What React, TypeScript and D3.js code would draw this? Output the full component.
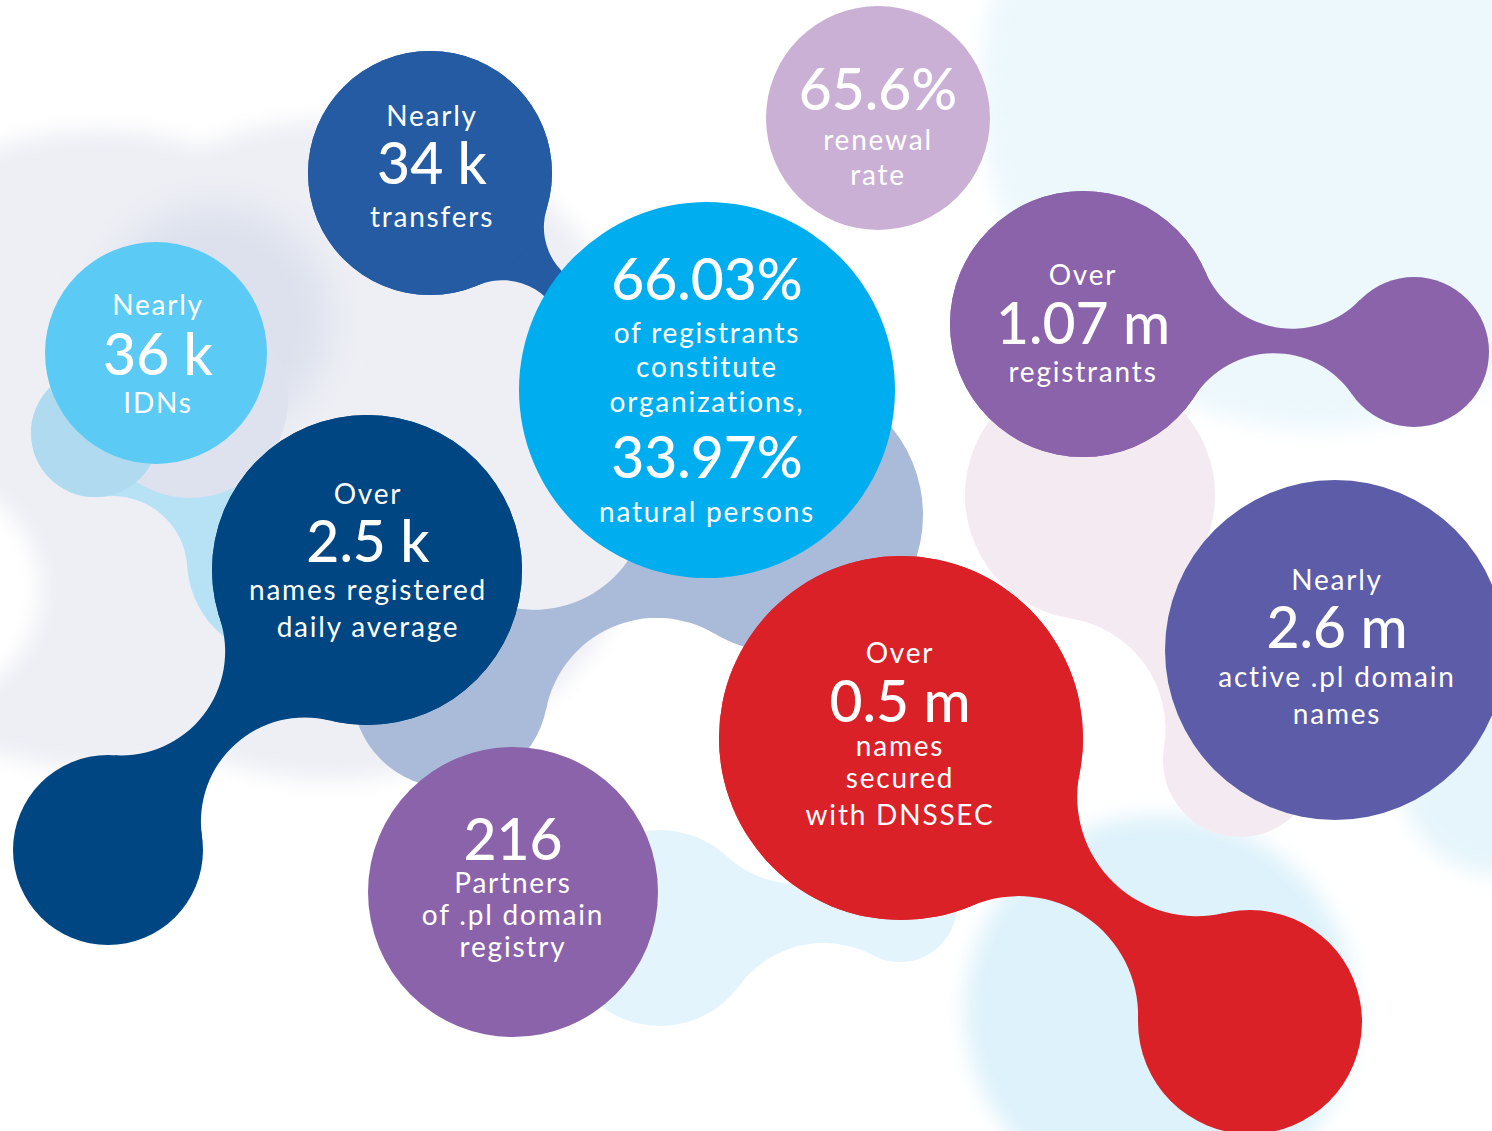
import React from "react";
import * as d3 from "d3";

const W = 1492;
const H = 1131;

// ---- data (texts) ----
const transfersText = ["Nearly", "34 k", "transfers"];
const idnText = ["Nearly", "36 k", "IDNs"];
const registrantsTypeText = ["66.03%", "of registrants", "constitute", "organizations,", "33.97%", "natural persons"];
const renewalText = ["65.6%", "renewal", "rate"];
const registrantsText = ["Over", "1.07 m", "registrants"];
const dailyText = ["Over", "2.5 k", "names registered", "daily average"];
const partnersText = ["216", "Partners", "of .pl domain", "registry"];
const dnssecText = ["Over", "0.5 m", "names", "secured", "with DNSSEC"];
const activeText = ["Nearly", "2.6 m", "active .pl domain", "names"];

const bigLines = [[1], [1], [0, 4], [0], [1], [1], [0], [1], [1]];

// ---- layout ----
type Pt = [number, number];
const bubbleLayout = [
  { c: [430, 173] as Pt, r: 122, color: "#245BA2", tx: 432, base: [126, 184, 227] },
  { c: [156, 353] as Pt, r: 111, color: "#5BCBF5", tx: 158, base: [315, 375, 413] },
  { c: [707, 390] as Pt, r: 188, color: "#00AEEF", tx: 707, base: [300, 343, 377, 412, 478, 522] },
  { c: [878, 118] as Pt, r: 112, color: "#CBB0D5", tx: 878, base: [110, 150, 185] },
  { c: [1083, 324] as Pt, r: 133, color: "#8B63AA", tx: 1083, base: [285, 344, 382] },
  { c: [367, 570] as Pt, r: 155, color: "#004682", tx: 368, base: [504, 562, 600, 637] },
  { c: [513, 892] as Pt, r: 145, color: "#8B63AA", tx: 513, base: [860, 893, 925, 957] },
  { c: [901, 738] as Pt, r: 182, color: "#DB2128", tx: 900, base: [663, 722, 756, 788, 825] },
  { c: [1335, 650] as Pt, r: 170, color: "#5D5CA8", tx: 1337, base: [590, 648, 687, 724] },
];
const texts = [transfersText, idnText, registrantsTypeText, renewalText, registrantsText, dailyText, partnersText, dnssecText, activeText];

function dist(a: Pt, b: Pt) { return Math.hypot(a[0] - b[0], a[1] - b[1]); }

// neck between two circles made of two arcs of circles tangent to both
function neckWidth(d: number, r1: number, r2: number, R: number) {
  const a = r1 + R, b = r2 + R;
  const cs = (a * a + d * d - b * b) / (2 * a * d);
  if (cs > 1 || cs < -1) return -1e9;
  return 2 * a * Math.sin(Math.acos(cs)) - 2 * R;
}

function bridge(c1: Pt, r1: number, c2: Pt, r2: number, w: number): string {
  const d = dist(c1, c2);
  let R = Math.max(0.5, (d - r1 - r2) / 2 + 0.01);
  while (R < 3000 && neckWidth(d, r1, r2, R) < w) R += 0.25;
  const a = r1 + R, b = r2 + R;
  const th = Math.acos(Math.min(1, Math.max(-1, (a * a + d * d - b * b) / (2 * a * d))));
  const ac = Math.atan2(c2[1] - c1[1], c2[0] - c1[0]);
  const pts = [1, -1].map((s) => {
    const B: Pt = [c1[0] + a * Math.cos(ac + s * th), c1[1] + a * Math.sin(ac + s * th)];
    const T1: Pt = [c1[0] + (B[0] - c1[0]) * (r1 / a), c1[1] + (B[1] - c1[1]) * (r1 / a)];
    const T2: Pt = [c2[0] + (B[0] - c2[0]) * (r2 / b), c2[1] + (B[1] - c2[1]) * (r2 / b)];
    return { B, T1, T2 };
  });
  const sweep = (B: Pt, P: Pt, Q: Pt) => {
    const cr = (P[0] - B[0]) * (Q[1] - B[1]) - (P[1] - B[1]) * (Q[0] - B[0]);
    return cr > 0 ? 1 : 0;
  };
  const [t, u] = pts;
  const p = d3.path();
  p.moveTo(t.T1[0], t.T1[1]);
  const s1 = `A${R},${R} 0 0 ${sweep(t.B, t.T1, t.T2)} ${t.T2[0]},${t.T2[1]}`;
  const s2 = `A${R},${R} 0 0 ${sweep(u.B, u.T2, u.T1)} ${u.T1[0]},${u.T1[1]}`;
  return `${p.toString()} ${s1} L${u.T2[0]},${u.T2[1]} ${s2} Z`;
}

type Blob = { c1: Pt; r1: number; c2: Pt; r2: number; w: number; color: string };

function BlobPair({ b }: { b: Blob }) {
  return (
    <g fill={b.color}>
      <path d={bridge(b.c1, b.r1, b.c2, b.r2, b.w)} />
      <circle cx={b.c1[0]} cy={b.c1[1]} r={b.r1} />
      <circle cx={b.c2[0]} cy={b.c2[1]} r={b.r2} />
    </g>
  );
}

// background blobs
const lightBlueChain: Blob = { c1: [95, 433], r1: 64, c2: [285, 560], r2: 98, w: 60, color: "#B7E1F5" };
const steelChain: Blob = { c1: [785, 515], r1: 138, c2: [450, 690], r2: 98, w: 38, color: "#A9BBD9" };
const pinkChain: Blob = { c1: [1090, 495], r1: 125, c2: [1240, 760], r2: 77, w: 70, color: "#F4EAF2" };
const paleChain: Blob = { c1: [660, 928], r1: 98, c2: [900, 905], r2: 57, w: 60, color: "#E4F4FC" };
const transfersChain: Blob = { c1: [430, 173], r1: 122, c2: [610, 335], r2: 45, w: 30, color: "#245BA2" };
const registrantsChain: Blob = { c1: [1083, 324], r1: 133, c2: [1414, 352], r2: 75, w: 25, color: "#8B63AA" };
const dailyChain: Blob = { c1: [367, 570], r1: 155, c2: [108, 850], r2: 95, w: 42, color: "#004682" };
const dnssecChain: Blob = { c1: [901, 738], r1: 182, c2: [1250, 1022], r2: 112, w: 43, color: "#DB2128" };

export default function App() {
  const font = "Lato, 'Noto Sans', sans-serif";
  return (
    <svg width={W} height={H} style={{ position: "absolute", left: 0, top: 0, display: "block", background: "#fff" }}>
      <defs>
        <filter id="soft" x="-30%" y="-30%" width="160%" height="160%">
          <feGaussianBlur stdDeviation="10" />
        </filter>
        <filter id="soft2" x="-30%" y="-30%" width="160%" height="160%">
          <feGaussianBlur stdDeviation="18" />
        </filter>
      </defs>
      <rect width={W} height={H} fill="#fff" />
      {/* soft background shapes */}
      <g filter="url(#soft)">
        <circle cx={1320} cy={90} r={340} fill="#EDF8FD" />
        <circle cx={100} cy={450} r={320} fill="#EEEFF5" />
        <circle cx={330} cy={450} r={330} fill="#EEEFF5" />
        <circle cx={-70} cy={590} r={110} fill="#fff" />
        <circle cx={1160} cy={1010} r={195} fill="#DEF2FB" />
        <circle cx={1500} cy={775} r={100} fill="#E6F5FC" />
      </g>
      <g filter="url(#soft2)">
        <circle cx={215} cy={320} r={115} fill="#DCE1ED" />
      </g>
      <BlobPair b={paleChain} />
      <BlobPair b={pinkChain} />
      <BlobPair b={lightBlueChain} />
      <circle cx={190} cy={400} r={98} fill="#DDE2EE" />
      <circle cx={lightBlueChain.c1[0]} cy={lightBlueChain.c1[1]} r={lightBlueChain.r1} fill="#B0DAF0" />
      <BlobPair b={steelChain} />
      <BlobPair b={transfersChain} />
      <BlobPair b={registrantsChain} />
      <BlobPair b={dailyChain} />
      <BlobPair b={dnssecChain} />
      {bubbleLayout.map((b, i) => (
        <circle key={"c" + i} cx={b.c[0]} cy={b.c[1]} r={b.r} fill={b.color} />
      ))}
      {bubbleLayout.map((b, i) => (
        <g key={"t" + i} fill="#fff" fontFamily={font} textAnchor="middle">
          {texts[i].map((t, j) => {
            const big = bigLines[i].includes(j);
            return (
              <text key={j} x={b.tx} y={b.base[j]} fontSize={big ? 57 : 28} fontWeight={big ? 500 : 400} letterSpacing={big ? 0 : 1.8}>
                {t}
              </text>
            );
          })}
        </g>
      ))}
    </svg>
  );
}
